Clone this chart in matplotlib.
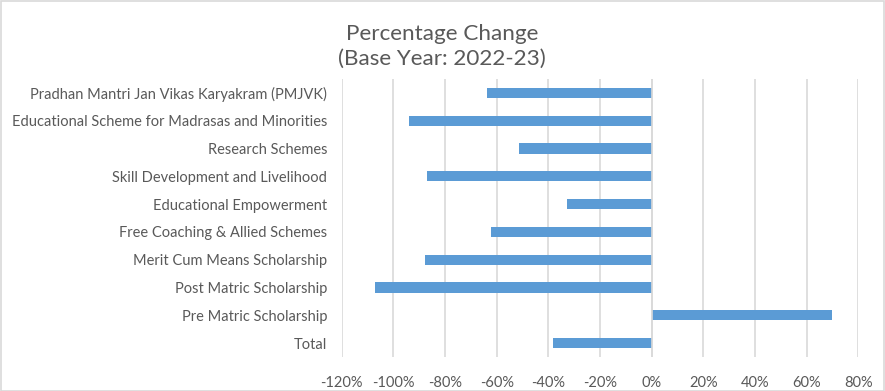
import matplotlib
matplotlib.use("Agg")
import matplotlib.pyplot as plt
from matplotlib.patches import Rectangle

categories = [
    "Total",
    "Pre Matric Scholarship",
    "Post Matric Scholarship",
    "Merit Cum Means Scholarship",
    "Free Coaching & Allied Schemes",
    "Educational Empowerment",
    "Skill Development and Livelihood",
    "Research Schemes",
    "Educational Scheme for Madrasas and Minorities",
    "Pradhan Mantri Jan Vikas Karyakram (PMJVK)",
]
values = [-38.3, 69.9, -107.0, -87.8, -62.1, -32.9, -86.9, -51.4, -94.0, -63.8]
xticks = [-120, -100, -80, -60, -40, -20, 0, 20, 40, 60, 80]
xticklabels = [f"{t}%" for t in xticks]

plt.rcParams['font.family'] = ['Lato', 'DejaVu Sans']
text_color = "#595959"

W, H = 885, 391
fig = plt.figure(figsize=(W / 100, H / 100), dpi=100)
fig.patch.set_facecolor("white")
fig.add_artist(Rectangle((0.5 / W, 0.5 / H), 1 - 1.5 / W, 1 - 1.5 / H, transform=fig.transFigure,
                         fill=False, edgecolor="#D9D9D9", linewidth=1.2))

left, right = 341.7, 858.3
top, bottom = 79, 357
ax = fig.add_axes([left / W, 1 - bottom / H, (right - left) / W, (bottom - top) / H])

y = range(len(categories))
ax.barh(list(y), values, height=0.36, color="#5B9BD5", zorder=3)
ax.set_xlim(-120, 80)
ax.set_ylim(-0.5, len(categories) - 0.5)
ax.set_xticks(xticks)
ax.set_xticklabels(xticklabels)
ax.set_yticks(list(y))
ax.set_yticklabels(categories)
ax.grid(axis="x", color="#D9D9D9", linewidth=1.2, zorder=0)
for s in ax.spines.values():
    s.set_visible(False)
ax.axvline(0, color="#D9D9D9", linewidth=1.2, zorder=4)
ax.tick_params(axis="both", length=0, colors=text_color, labelsize=10.5)
ax.tick_params(axis="y", pad=10.5)
ax.tick_params(axis="x", pad=13.5)

fig.text(442 / W, 1 - 46 / H, "Percentage Change\n(Base Year: 2022-23)", ha="center", va="center",
         fontsize=16.2, color=text_color, linespacing=1.3)

fig.savefig("out.png", dpi=100)
